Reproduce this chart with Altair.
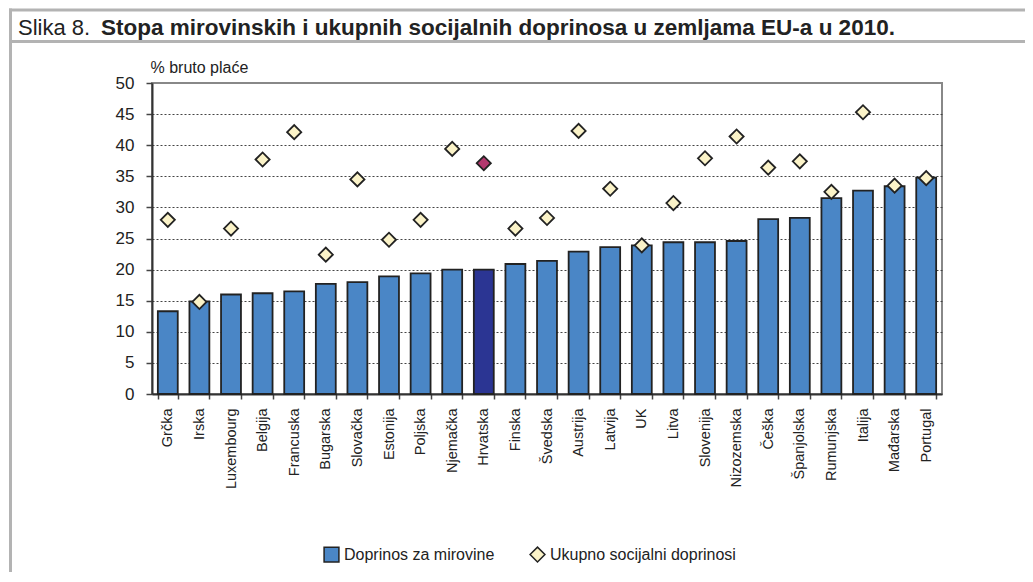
import altair as alt
import pandas as pd

countries = ["Grčka", "Irska", "Luxembourg", "Belgija", "Francuska", "Bugarska",
             "Slovačka", "Estonija", "Poljska", "Njemačka", "Hrvatska", "Finska",
             "Švedska", "Austrija", "Latvija", "UK", "Litva", "Slovenija",
             "Nizozemska", "Češka", "Španjolska", "Rumunjska", "Italija",
             "Mađarska", "Portugal"]
pension = [13.3, 14.9, 16.0, 16.2, 16.5, 17.7, 18.0, 18.9, 19.4, 20.0, 20.0, 20.9,
           21.4, 22.9, 23.6, 23.9, 24.4, 24.4, 24.6, 28.1, 28.3, 31.5, 32.7, 33.4, 34.8]
total = [28.0, 14.8, 26.6, 37.7, 42.1, 22.4, 34.5, 24.8, 28.0, 39.4, 37.1, 26.6,
         28.3, 42.3, 33.0, 23.9, 30.7, 37.9, 41.4, 36.4, 37.4, 32.5, 45.3, 33.5, 34.7]
series_names = ["Doprinos za mirovine", "Ukupno socijalni doprinosi"]
highlight = "Hrvatska"
y_ticks = [0, 5, 10, 15, 20, 25, 30, 35, 40, 45, 50]
fig_label = "Slika 8."
fig_title = "Stopa mirovinskih i ukupnih socijalnih doprinosa u zemljama EU-a u 2010."
y_title = "% bruto plaće"

bars_df = pd.DataFrame({"country": countries, "value": pension, "series": series_names[0]})
pts_df = pd.DataFrame({"country": countries, "value": total, "series": series_names[1]})

FONT = "Liberation Sans, Arial, sans-serif"
W, H = 790, 311


def x_enc():
    return alt.X("country:N", sort=countries,
                 scale=alt.Scale(paddingInner=0.37, paddingOuter=0.185),
                 axis=alt.Axis(title=None, labelAngle=-90, labelFontSize=14.5,
                               labelColor="#222", labelFont=FONT, tickBand="extent",
                               tickSize=5, tickColor="#444", tickWidth=1.5,
                               domainColor="#333", domainWidth=2, labelPadding=9))


def y_enc():
    return alt.Y("value:Q", scale=alt.Scale(domain=[0, 50], nice=False),
                 axis=alt.Axis(values=y_ticks, title=y_title, titleAngle=0,
                               titleAlign="left", titleBaseline="alphabetic",
                               titleX=-2, titleY=-11, titleFontSize=16,
                               titleFontWeight="normal", titleFont=FONT, titleColor="#222",
                               labelFontSize=17, labelFont=FONT, labelColor="#222",
                               labelOverlap=False,
                               tickSize=6, tickColor="#444", tickWidth=1.5,
                               labelPadding=12, domainColor="#333", domainWidth=2,
                               grid=True, gridDash=[2, 2], gridColor="#444", gridWidth=1,
                               gridOpacity={"condition": {"test": "datum.value === 50 || datum.value === 0", "value": 0}, "value": 1}))


fill_scale = alt.Scale(domain=series_names, range=["#4a86c6", "#fbf3c8"])
shape_scale = alt.Scale(domain=series_names, range=["square", "diamond"])
stroke_scale = alt.Scale(domain=series_names, range=["#222222", "#222222"])
leg = alt.Legend(title=None, labelLimit=400)

bars = alt.Chart(bars_df).mark_bar(strokeWidth=1.8).encode(
    x=x_enc(), y=y_enc(),
    fill=alt.condition(alt.datum.country == highlight, alt.value("#2b3593"),
                       alt.Fill("series:N", scale=fill_scale, legend=leg)),
    stroke=alt.Stroke("series:N", scale=stroke_scale, legend=leg),
)

points = alt.Chart(pts_df).mark_point(filled=True, size=200,
                                      strokeWidth=1.8, opacity=1).encode(
    x=x_enc(), y=y_enc(),
    fill=alt.condition(alt.datum.country == highlight, alt.value("#b3386e"),
                       alt.Fill("series:N", scale=fill_scale, legend=leg)),
    shape=alt.Shape("series:N", scale=shape_scale, legend=leg),
    stroke=alt.Stroke("series:N", scale=stroke_scale, legend=leg),
)

one = alt.Data(values=[{"k": 0}])
frame_top = alt.Chart(one).mark_rule(color="#b3b3b3", strokeWidth=3).encode(
    x=alt.value(-143), x2=alt.value(890), y=alt.value(-73))
frame_mid = alt.Chart(one).mark_rule(color="#b3b3b3", strokeWidth=3).encode(
    x=alt.value(-143), x2=alt.value(890), y=alt.value(-41.5))
frame_left = alt.Chart(one).mark_rule(color="#b3b3b3", strokeWidth=3).encode(
    x=alt.value(-141.5), y=alt.value(-74.5), y2=alt.value(500))

t1 = alt.Chart(one).mark_text(align="left", baseline="alphabetic", fontSize=22,
                              font=FONT, color="#222").encode(
    x=alt.value(-134), y=alt.value(-48), text=alt.value(fig_label))
t2 = alt.Chart(one).mark_text(align="left", baseline="alphabetic", fontSize=22.5,
                              font=FONT, fontWeight="bold", color="#222").encode(
    x=alt.value(-51), y=alt.value(-48), text=alt.value(fig_title))

chart = alt.layer(frame_top, frame_mid, frame_left, t1, t2, bars, points).properties(
    width=W, height=H,
    autosize=alt.AutoSizeParams(type="none"),
    padding={"left": 144, "top": 75, "right": 83, "bottom": 178},
    background="white",
).resolve_scale(fill="shared", shape="shared", stroke="shared").configure_view(
    stroke="#888", strokeWidth=2
).configure_legend(
    orient="none", legendX=171, legendY=463, direction="horizontal",
    labelFontSize=16, labelFont=FONT, labelColor="#222", symbolSize=220,
    symbolStrokeWidth=1.5, symbolOpacity=1,
    columnPadding=32, labelOffset=4, padding=0
)

chart.save("out.html", embed_options={"renderer": "svg", "actions": False})
